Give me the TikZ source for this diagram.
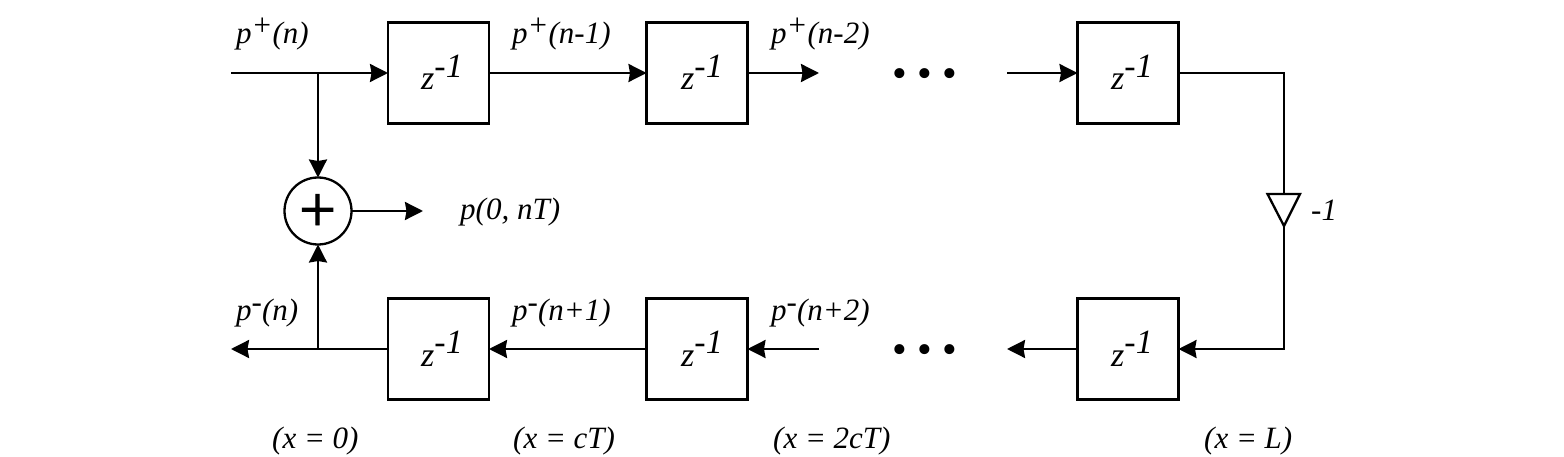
\documentclass[tikz,border=0pt]{standalone}
\usepackage{fontspec}
\setmainfont{Liberation Serif}
\newfontfamily\plusfont[FakeBold=1.2]{Liberation Serif}
\usetikzlibrary{arrows.meta}
\newcommand{\supr}[1]{\raisebox{8pt}{#1}}
\newcommand{\zinv}{z\raisebox{12.5pt}{-1}}
\tikzset{
  x=1pt,y=-1pt,
  wire/.style={line width=2.3pt,line cap=butt,line join=miter,black},
  arr/.style={wire,-{Stealth[length=18pt,width=18pt,inset=1.5pt]}},
  delay/.style={draw,line width=2.3pt,minimum width=101pt,minimum height=101pt,inner sep=0pt,outer sep=0pt,anchor=center},
  ztext/.style={font=\fontsize{34}{34}\selectfont\itshape,inner sep=0pt,anchor=base west},
  lab/.style={font=\fontsize{31}{31}\selectfont\itshape,inner sep=0pt,anchor=base west},
  dots/.style={font=\fontsize{42}{42}\selectfont,inner sep=0pt,anchor=center},
  sumnode/.style={draw,circle,line width=2.3pt,minimum size=67pt,inner sep=0pt,outer sep=0pt},
}
\begin{document}
\begin{tikzpicture}
\useasboundingbox (0,0) rectangle (1564,457);
% delay boxes
\node[delay] (t1) at (438.5,73) {};
\node[delay] (t2) at (697,73) {};
\node[delay] (t3) at (1128,73) {};
\node[delay] (b1) at (438.5,349) {};
\node[delay] (b2) at (697,349) {};
\node[delay] (b3) at (1128,349) {};
\node[ztext] at (421,90) {\zinv};
\node[ztext] at (681,90) {\zinv};
\node[ztext] at (1111,90) {\zinv};
\node[ztext] at (421,366) {\zinv};
\node[ztext] at (681,366) {\zinv};
\node[ztext] at (1111,366) {\zinv};
% adder
\node[sumnode] (sum) at (318,211) {};
\node[font=\fontsize{66}{66}\selectfont\plusfont,inner sep=0pt] (plus) at (317.5,213) {+};
% coordinates
\coordinate (inT) at (231,73);
\coordinate (jT) at (318,73);
\coordinate (outB) at (231,349);
\coordinate (jB) at (318,349);
\coordinate (outS) at (423,211);
\coordinate (t2end) at (819,73);
\coordinate (t3start) at (1007,73);
\coordinate (b2start) at (819,349);
\coordinate (b3end) at (1007,349);
\coordinate (cornT) at (1284,73);
\coordinate (cornB) at (1284,349);
\coordinate (gainT) at (1284,194);
\coordinate (gainL) at (1267.5,194);
\coordinate (gainR) at (1300,194);
\coordinate (gainB) at (1284,226);
% connectors
\draw[arr] (inT) -- (t1.west);
\draw[arr] (jT) -- (sum.north);
\draw[arr] (t1.east) -- (t2.west);
\draw[arr] (t2.east) -- (t2end);
\draw[arr] (t3start) -- (t3.west);
\draw[wire] (t3.east) -- (cornT) -- (gainT);
\draw[wire] (gainL) -- (gainR) -- (gainB) -- cycle;
\draw[arr] (gainB) -- (cornB) -- (b3.east);
\draw[arr] (b3.west) -- (b3end);
\draw[arr] (b2start) -- (b2.east);
\draw[arr] (b2.west) -- (b1.east);
\draw[arr] (b1.west) -- (outB);
\draw[arr] (jB) -- (sum.south);
\draw[arr] (sum.east) -- (outS);
% dots
\node[dots] (d1) at (925,78) {•\hspace{10pt}•\hspace{10pt}•};
\node[dots] (d2) at (925,354) {•\hspace{10pt}•\hspace{10pt}•};
% labels
\node[lab] at (236,44) {p\supr{+}(n)};
\node[lab] at (512,44) {p\supr{+}(n-1)};
\node[lab] at (771,44) {p\supr{+}(n-2)};
\node[lab] at (460,220) {p(0, nT)};
\node[lab] at (1311,221) {-1};
\node[lab] at (236,320) {p\supr{-}(n)};
\node[lab] at (512,320) {p\supr{-}(n+1)};
\node[lab] at (771,320) {p\supr{-}(n+2)};
\node[lab] at (272,448) {(x = 0)};
\node[lab] at (513,448) {(x = cT)};
\node[lab] at (773,448) {(x = 2cT)};
\node[lab] at (1204,448) {(x = L)};
\end{tikzpicture}
\end{document}
